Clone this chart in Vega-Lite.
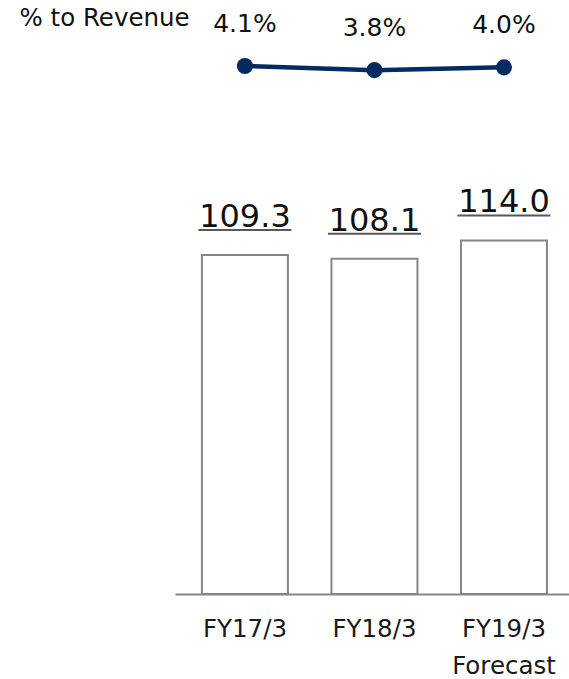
{
  "$schema": "https://vega.github.io/schema/vega-lite/v6.json",
  "width": 394,
  "height": 594,
  "autosize": {"type": "none"},
  "padding": {"left": 175, "top": 0, "right": 0, "bottom": 85},
  "config": {"view": {"stroke": null}, "font": "DejaVu Sans"},
  "data": {"values": [
    {"period": "FY17/3", "value": 109.3, "label": "109.3", "pct": 4.1, "pctLabel": "4.1%"},
    {"period": "FY18/3", "value": 108.1, "label": "108.1", "pct": 3.8, "pctLabel": "3.8%"},
    {"period": "FY19/3", "value": 114.0, "label": "114.0", "pct": 4.0, "pctLabel": "4.0%"}
  ]},
  "encoding": {
    "x": {
      "field": "period", "type": "nominal", "sort": null,
      "scale": {"paddingInner": 0.336, "paddingOuter": 0.189, "align": 0.55},
      "axis": {
        "title": null, "ticks": false, "domainColor": "#858585", "domainWidth": 2,
        "labelAngle": 0, "labelFontSize": 24.5, "labelColor": "#1a1a1a", "labelPadding": 23,
        "labelFont": "DejaVu Sans", "labelLineHeight": 37,
        "labelExpr": "datum.value == 'FY19/3' ? ['FY19/3', 'Forecast'] : datum.value"
      }
    }
  },
  "layer": [
    {
      "encoding": {
        "y": {"field": "value", "type": "quantitative", "scale": {"domain": [0, 191.5], "nice": false}, "axis": null}
      },
      "layer": [
        {"mark": {"type": "bar", "fill": "white", "stroke": "#868686", "strokeWidth": 2}},
        {"mark": {"type": "text", "fontSize": 32, "baseline": "alphabetic", "dy": -28, "color": "#111111", "font": "DejaVu Sans"},
         "encoding": {"text": {"field": "label"}}},
        {"mark": {"type": "tick", "size": 93, "thickness": 2, "yOffset": -25, "color": "#111111"}}
      ]
    },
    {
      "encoding": {
        "y": {"field": "pct", "type": "quantitative", "scale": {"domain": [-33.6, 8.81], "nice": false, "zero": false},
          "axis": {"orient": "left", "domain": false, "ticks": false, "labels": false, "grid": false,
            "title": "% to Revenue", "titleAngle": 0, "titleAlign": "left", "titleBaseline": "alphabetic",
            "titleX": -156, "titleY": 25, "titleFontSize": 24.5, "titleFontWeight": "normal",
            "titleFont": "DejaVu Sans", "titleColor": "#111111"}}
      },
      "layer": [
        {"mark": {"type": "line", "color": "#032b61", "strokeWidth": 4.5}},
        {"mark": {"type": "point", "filled": true, "opacity": 1, "color": "#032b61", "size": 260}},
        {"mark": {"type": "text", "fontSize": 25, "baseline": "alphabetic", "dy": -34, "color": "#111111", "font": "DejaVu Sans"},
         "encoding": {"text": {"field": "pctLabel"}}}
      ]
    }
  ],
  "resolve": {"scale": {"y": "independent"}}
}
